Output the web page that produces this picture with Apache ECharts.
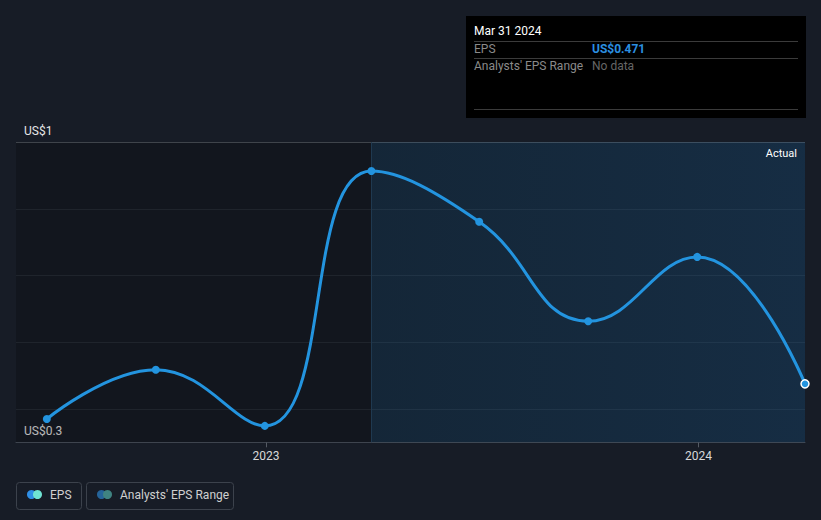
<!DOCTYPE html>
<html><head><meta charset="utf-8">
<script src="https://cdn.jsdelivr.net/npm/echarts@6/dist/echarts.min.js"></script>
<style>html,body{margin:0;padding:0;background:#171c26;}#c{width:821px;height:520px;}</style>
</head><body><div id="c"></div>
<script>
// ---- data ----
const dates = ['2022-06-30','2022-09-30','2022-12-31','2023-03-31','2023-06-30','2023-09-30','2023-12-31','2024-03-31'];
const epsValues = [0.394, 0.502, 0.379, 0.937, 0.826, 0.608, 0.749, 0.471];
const yTickValues = [0.343, 1.0];
const yTickLabels = ['US$0.3', 'US$1'];
const xTickDates = ['2023-01-01', '2024-01-01'];
const xTickLabels = ['2023', '2024'];
const xRange = ['2022-06-04', '2024-03-31'];
const actualStart = '2023-03-31';
const actualLabel = 'Actual';
const tooltipTitle = 'Mar 31 2024';
const legendNames = ['EPS', "Analysts' EPS Range"];

const FONT = 'Roboto, "Noto Sans", sans-serif';
const ts = d => new Date(d + 'T00:00:00Z').getTime();
const xTickTs = xTickDates.map(ts);
const seriesData = dates.map((d, i) => {
  const p = { value: [ts(d), epsValues[i]] };
  if (i === dates.length - 1) p.itemStyle = { borderColor: '#ffffff', borderWidth: 1.5 };
  return p;
});
const last = epsValues[epsValues.length - 1];

const chart = echarts.init(document.getElementById('c'), null, { renderer: 'svg' });
chart.setOption({
  backgroundColor: '#171c26',
  animation: false,
  textStyle: { fontFamily: FONT },
  grid: { left: 16, right: 16, top: 142.3, bottom: 77.7, containLabel: false },
  xAxis: {
    type: 'value', min: ts(xRange[0]), max: ts(xRange[1]),
    axisLine: { show: true, onZero: false, lineStyle: { color: '#424852', width: 1 } },
    axisTick: { show: true, length: 5, customValues: xTickTs, lineStyle: { color: '#555b64' } },
    axisLabel: {
      show: true, customValues: xTickTs, color: '#d8d8d8', fontSize: 12, margin: 8, fontFamily: FONT,
      formatter: v => { const i = xTickTs.indexOf(v); return i >= 0 ? xTickLabels[i] : ''; }
    },
    splitLine: { show: false }
  },
  yAxis: [
    {
      type: 'value', min: yTickValues[0], max: yTickValues[1],
      axisLine: { show: false }, axisTick: { show: false }, splitLine: { show: false },
      axisLabel: {
        show: true, inside: true, customValues: yTickValues, margin: 8, color: '#e6e6e6', fontSize: 12,
        fontFamily: FONT, verticalAlign: 'bottom', padding: [0, 0, 5, 0],
        formatter: v => { let bi = 0, bd = 1e9; yTickValues.forEach((t, i) => { if (Math.abs(t - v) < bd) { bd = Math.abs(t - v); bi = i; } }); return yTickLabels[bi]; }
      }
    },
    {
      type: 'value', min: 0, max: 4.5, interval: 1, inverse: true,
      axisLine: { show: false }, axisTick: { show: false }, axisLabel: { show: false },
      splitLine: { show: true, lineStyle: { color: ['#4a5059', '#272d37', '#272d37', '#272d37', '#272d37', '#424852'], width: 1 } }
    }
  ],
  series: [{
    type: 'line', name: legendNames[0], yAxisIndex: 0,
    data: seriesData, smooth: 0.45,
    symbol: 'circle', symbolSize: 8, showSymbol: true,
    lineStyle: { color: '#2394df', width: 3 },
    itemStyle: { color: '#2394df' },
    z: 5,
    markArea: {
      silent: true,
      label: { show: false },
      data: [
        [{ xAxis: ts(xRange[0]), itemStyle: { color: 'rgba(0,0,0,0.2)' } }, { xAxis: ts(actualStart) }],
        [{ xAxis: ts(actualStart), itemStyle: { color: { type: 'linear', x: 0, y: 0, x2: 1, y2: 0, colorStops: [{ offset: 0, color: 'rgba(13,65,101,0.28)' }, { offset: 1, color: 'rgba(20,75,120,0.36)' }] } } },
         { xAxis: ts(xRange[1]) }]
      ]
    },
    markLine: {
      silent: true, symbol: ['none', 'none'], label: { show: false },
      lineStyle: { color: '#1f3950', width: 1, type: 'solid' },
      data: [{ xAxis: ts(actualStart) }]
    }
  }],
  graphic: [
    { type: 'text', right: 24, top: 148, style: { text: actualLabel, fill: '#ffffff', fontSize: 11, fontFamily: FONT }, z: 101 },

    { type: 'rect', shape: { x: 466, y: 16, width: 340, height: 102 }, style: { fill: '#000000' }, z: 100 },
    { type: 'text', x: 474, y: 31, style: { text: tooltipTitle, fill: '#ffffff', fontSize: 12, fontFamily: FONT, verticalAlign: 'middle' }, z: 101 },
    { type: 'line', shape: { x1: 474, y1: 41.5, x2: 798, y2: 41.5 }, style: { stroke: '#3b3b3b', lineWidth: 1 }, z: 101 },
    { type: 'text', x: 474, y: 48.5, style: { text: legendNames[0], fill: '#8a8a8a', fontSize: 12, fontFamily: FONT, verticalAlign: 'middle' }, z: 101 },
    { type: 'text', x: 592, y: 48.5, style: { text: 'US$' + last.toFixed(3), fill: '#2b8fe0', fontSize: 12, fontWeight: 'bold', fontFamily: FONT, verticalAlign: 'middle' }, z: 101 },
    { type: 'line', shape: { x1: 474, y1: 58.5, x2: 798, y2: 58.5 }, style: { stroke: '#3b3b3b', lineWidth: 1 }, z: 101 },
    { type: 'text', x: 474, y: 66, style: { text: legendNames[1], fill: '#8a8a8a', fontSize: 12, fontFamily: FONT, verticalAlign: 'middle' }, z: 101 },
    { type: 'text', x: 592, y: 66, style: { text: 'No data', fill: '#666666', fontSize: 12, fontFamily: FONT, verticalAlign: 'middle' }, z: 101 },
    { type: 'line', shape: { x1: 474, y1: 109.5, x2: 798, y2: 109.5 }, style: { stroke: '#3b3b3b', lineWidth: 1 }, z: 101 },

    { type: 'rect', shape: { x: 16.5, y: 482.5, width: 65, height: 27, r: 3 }, style: { fill: 'none', stroke: '#3c424c', lineWidth: 1 }, z: 100 },
    { type: 'circle', shape: { cx: 31.5, cy: 494.5, r: 4.5 }, style: { fill: '#2f8fe6' }, z: 101 },
    { type: 'circle', shape: { cx: 37.5, cy: 494.5, r: 4.5 }, style: { fill: '#6fe3d3' }, z: 102 },
    { type: 'text', x: 50, y: 495, style: { text: legendNames[0], fill: '#d0d0d0', fontSize: 12, fontFamily: FONT, verticalAlign: 'middle' }, z: 101 },
    { type: 'rect', shape: { x: 86.5, y: 482.5, width: 147, height: 27, r: 3 }, style: { fill: 'none', stroke: '#3c424c', lineWidth: 1 }, z: 100 },
    { type: 'circle', shape: { cx: 101.5, cy: 494.5, r: 4.5 }, style: { fill: '#25649a' }, z: 101 },
    { type: 'circle', shape: { cx: 107.5, cy: 494.5, r: 4.5 }, style: { fill: '#3f8381' }, z: 102 },
    { type: 'text', x: 120, y: 495, style: { text: legendNames[1], fill: '#d0d0d0', fontSize: 12, fontFamily: FONT, verticalAlign: 'middle' }, z: 101 }
  ]
});
</script></body></html>
